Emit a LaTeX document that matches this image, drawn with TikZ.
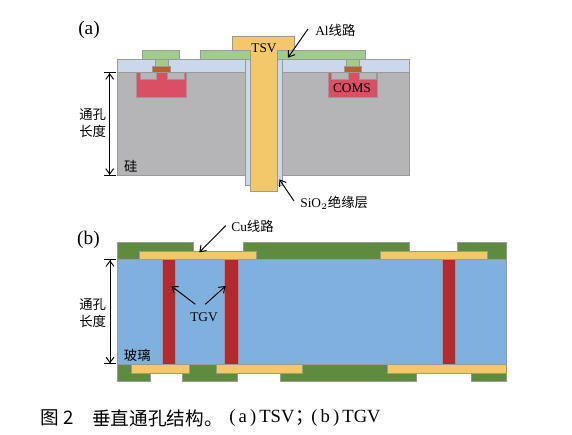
\documentclass[tikz,border=0pt]{standalone}
\usepackage{fontspec}
\setmainfont{Liberation Serif}
\newfontfamily\cjk{Noto Sans CJK SC}
\usepackage{tikz}
\usetikzlibrary{arrows.meta}
\definecolor{sic}{HTML}{B5B5B7}
\definecolor{oxidec}{HTML}{CBD8EC}
\definecolor{metalc}{HTML}{F3C86A}
\definecolor{alc}{HTML}{A0CC8E}
\definecolor{gatec}{HTML}{BC5F2A}
\definecolor{wellc}{HTML}{D94F64}
\definecolor{cuc}{HTML}{5F8B3F}
\definecolor{glassc}{HTML}{80B0DD}
\definecolor{tgvc}{HTML}{B22A30}
\tikzset{
  part/.style={draw=black!40, line width=0.3pt},
  leader/.style={-{Straight Barb[length=3.2pt,width=4.5pt]}, line width=0.55pt},
  span/.style={{Bar[width=7pt]Straight Barb[length=3pt,width=4.5pt]}-{Straight Barb[length=3pt,width=4.5pt]Bar[width=7pt]}, line width=0.55pt},
  lbl/.style={inner sep=0pt, font=\fontsize{7.6pt}{9pt}\selectfont},
  tag/.style={inner sep=0pt, font=\fontsize{11pt}{13pt}\selectfont},
  captionlbl/.style={inner sep=0pt, anchor=west, font=\fontsize{10.6pt}{12pt}\selectfont}
}

\begin{document}
\begin{tikzpicture}[x=0.02cm, y=-0.02cm]
  \useasboundingbox (0,0) rectangle (572,435);
  \fill[white] (0,0) rectangle (572,435);
  \draw[part, fill=oxidec] (117.3,59.3) rectangle (409,72.3);
  \draw[part, fill=oxidec] (245.7,59.3) rectangle (282.5,185);
  \draw[part, fill=sic] (117.3,72.3) rectangle (245.7,175.7);
  \draw[part, fill=sic] (282.5,72.3) rectangle (409,175.7);
  \draw[part, fill=alc] (142,50.7) rectangle (179.7,59.3);
  \draw[part, fill=alc] (200.3,50.7) rectangle (250.3,59.3);
  \draw[part, fill=alc] (277.7,50.7) rectangle (365.3,59.3);
  \draw[part, fill=alc] (155.3,59.3) rectangle (168,66);
  \draw[part, fill=alc] (346.7,59.3) rectangle (359.3,66);
  \draw[part, fill=wellc] (136.7,72.3) rectangle (186,97.3);
  \draw[part, fill=wellc] (328.3,72.3) rectangle (377.7,97.3);
  \draw[part, fill=sic] (140,72.3) rectangle (156.7,79.3);
  \draw[part, fill=sic] (167,72.3) rectangle (184,79.3);
  \draw[part, fill=sic] (331.7,72.3) rectangle (348.3,79.3);
  \draw[part, fill=sic] (359.3,72.3) rectangle (376,79.3);
  \draw[part, fill=gatec] (152.7,66) rectangle (170,72.3);
  \draw[part, fill=gatec] (344.3,66) rectangle (361.7,72.3);
  \draw[part, fill=metalc] (250.3,191) -- (250.3,50.7) -- (232.7,50.7) -- (232.7,36) -- (294,36) -- (294,50.7) -- (277.7,50.7) -- (277.7,191) -- cycle;

  \draw[part, fill=cuc] (117.3,242.7) rectangle (193,259.3);
  \draw[part, fill=cuc] (243.3,242.7) rectangle (409.3,259.3);
  \draw[part, fill=cuc] (457.7,242.7) rectangle (506,259.3);
  \draw[part, fill=cuc] (117.3,364.3) rectangle (150,381.7);
  \draw[part, fill=cuc] (182.3,364.3) rectangle (237,381.7);
  \draw[part, fill=cuc] (280,364.3) rectangle (416.3,381.7);
  \draw[part, fill=cuc] (471.7,364.3) rectangle (506,381.7);
  \draw[part, fill=glassc] (117.3,259.3) rectangle (506,364.3);
  \draw[part, fill=metalc] (139,251.7) rectangle (256,259.3);
  \draw[part, fill=metalc] (380.3,251.7) rectangle (487,259.3);
  \draw[part, fill=metalc] (131,364.3) rectangle (189.3,373.7);
  \draw[part, fill=metalc] (216.7,364.3) rectangle (302.7,373.7);
  \draw[part, fill=metalc] (387.7,364.3) rectangle (506,373.7);
  \draw[part, fill=tgvc] (162,259.3) rectangle (175.3,364.3);
  \draw[part, fill=tgvc] (224.7,259.3) rectangle (238,364.3);
  \draw[part, fill=tgvc] (442,259.3) rectangle (455.3,364.3);

  \node[tag] (taga) at (89,30) {(a)};
  \node[tag] (tagb) at (88.5,240) {(b)};
  \node[lbl] (tsv) at (264,47.7) {TSV};
  \node[lbl] (coms) at (352,88) {COMS};
  \node[lbl, anchor=west] (allabel) at (315,30) {Al{\cjk 线路}};
  \node[lbl, anchor=west] (oxidelabel) at (300,202.7) {SiO$_2${\cjk 绝缘层}};
  \node[lbl, anchor=west] (culabel) at (231,226) {Cu{\cjk 线路}};
  \node[lbl] (lena) at (92.7,115) {\cjk 通孔};
  \node[lbl] (lenb) at (92.7,131) {\cjk 长度};
  \node[lbl] (sinode) at (130.7,166.7) {\cjk 硅};
  \node[lbl] (lenc) at (92.7,304.3) {\cjk 通孔};
  \node[lbl] (lend) at (92.7,321.7) {\cjk 长度};
  \node[lbl] (glass) at (137.3,355.7) {\cjk 玻璃};
  \node[lbl] (tgv) at (204,316.7) {TGV};
  \node[captionlbl] (capnum) at (40.5,418.3) {\cjk 图 2};
  \node[captionlbl] (captext) at (92,418.3) {\cjk 垂直通孔结构。};
  \node[captionlbl] (capa) at (229,418.3) {(\,a\,)\,TSV};
  \node[captionlbl] (capsemi) at (295,418.3) {\cjk ；};
  \node[captionlbl] (capb) at (311,418.3) {(\,b\,)\,TGV};

  \coordinate (altail) at (308,29);
  \coordinate (altip) at (288,57.7);
  \coordinate (oxidetail) at (294,201);
  \coordinate (oxidetip) at (279.3,179.3);
  \coordinate (cutail) at (225.7,225.7);
  \coordinate (cutip) at (199.3,252.3);
  \coordinate (tgvtaila) at (195.3,304.3);
  \coordinate (tgvtipa) at (171.3,286);
  \coordinate (tgvtailb) at (205.3,304.3);
  \coordinate (tgvtipb) at (225.7,286);
  \coordinate (spanatop) at (109.7,72.3);
  \coordinate (spanabot) at (109.7,175.7);
  \coordinate (spanbtop) at (110,259.3);
  \coordinate (spanbbot) at (110,364.3);
  \draw[leader] (altail) -- (altip);
  \draw[leader] (oxidetail) -- (oxidetip);
  \draw[leader] (cutail) -- (cutip);
  \draw[leader] (tgvtaila) -- (tgvtipa);
  \draw[leader] (tgvtailb) -- (tgvtipb);
  \draw[span] (spanatop) -- (spanabot);
  \draw[span] (spanbtop) -- (spanbbot);
\end{tikzpicture}
\end{document}
